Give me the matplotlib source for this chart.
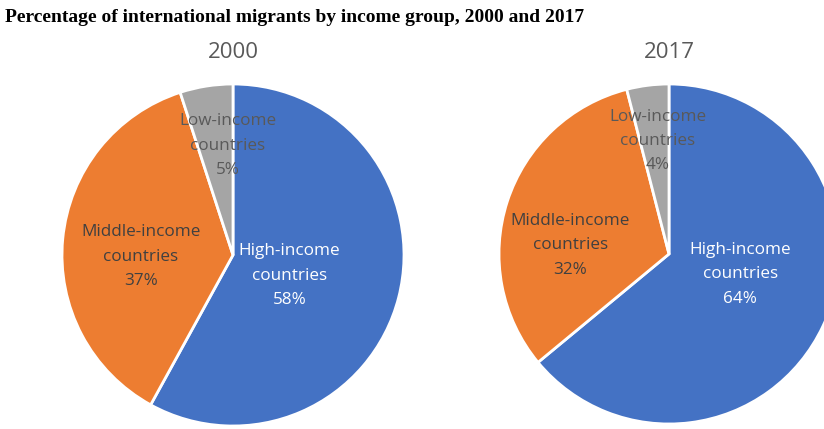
import matplotlib.pyplot as plt

# ------------------ Data -------------------
groups = ["High-income\ncountries", "Middle-income\ncountries", "Low-income\ncountries"]
shares_2000 = [58, 37, 5]
shares_2017 = [64, 32, 4]
colors = ["#4472C4", "#ED7D31", "#A5A5A5"]
label_colors = ["white", "#404040", "#595959"]

# label positions in pie units (layout only)
label_pos_2000 = [(0.33, -0.12), (-0.54, -0.01), (-0.03, 0.64)]
label_pos_2017 = [(0.42, -0.12), (-0.58, 0.05), (-0.065, 0.665)]

W, H = 824, 429
fig = plt.figure(figsize=(W / 100, H / 100), dpi=100)
fig.text(5 / W, 1 - 18 / H, "Percentage of international migrants by income group, 2000 and 2017",
         family="Liberation Serif", weight="bold", fontsize=14, va="center", ha="left")


def draw_pie(cx, cy, r, shares, year, label_pos):
    ax = fig.add_axes([(cx - r) / W, 1 - (cy + r) / H, 2 * r / W, 2 * r / H])
    ax.pie(shares, colors=colors, startangle=90, counterclock=False, radius=1,
           wedgeprops=dict(edgecolor="white", linewidth=2))
    ax.set_xlim(-1, 1)
    ax.set_ylim(-1, 1)
    ax.set_aspect("auto")
    ax.axis("off")
    for name, val, (x, y), c in zip(groups, shares, label_pos, label_colors):
        ax.text(x, y, f"{name}\n{val}%", ha="center", va="center", color=c,
                fontsize=12.3, family="Open Sans", linespacing=1.7)
    fig.text(cx / W, 1 - 52 / H, year, ha="center", va="center", color="#595959",
             fontsize=16, family="Open Sans")


draw_pie(233, 255, 171, shares_2000, "2000", label_pos_2000)
draw_pie(669, 254, 170, shares_2017, "2017", label_pos_2017)

fig.savefig("out.png", dpi=100)
